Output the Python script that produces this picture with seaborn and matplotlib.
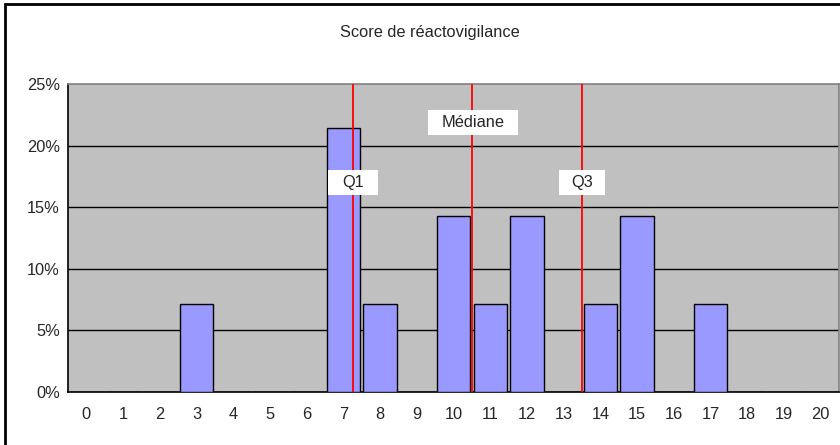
import matplotlib
matplotlib.use("Agg")
import matplotlib.pyplot as plt
import seaborn as sns
import pandas as pd
import numpy as np
from matplotlib.patches import Rectangle

scores = list(range(0, 21))
percent = [0, 0, 0, 7.14, 0, 0, 0, 21.43, 7.14, 0, 14.29, 7.14, 14.29, 0, 7.14, 14.29, 0, 7.14, 0, 0, 0]
y_ticks = [0, 5, 10, 15, 20, 25]
quartile_names = ["Q1", "Médiane", "Q3"]
quartile_values = [7.25, 10.5, 13.5]
label_x = [7.26, 10.54, 13.49]
label_y = [17.0, 21.9, 17.0]
label_w = [1.34, 2.45, 1.25]
title = "Score de réactovigilance"

sns.set_style("white")
plt.rcParams["font.family"] = ["Liberation Sans", "DejaVu Sans"]
FS = 11.8

fig = plt.figure(figsize=(8.4, 4.45), dpi=100)
ax = fig.add_axes([68/840, 1-392/445, (839-68)/840, (392-84)/445])

df = pd.DataFrame({"score": [str(s) for s in scores], "pct": percent})
sns.barplot(data=df, x="score", y="pct", order=[str(s) for s in scores],
            color="#9999FF", saturation=1, edgecolor="black", linewidth=1.0,
            width=0.91, ax=ax, zorder=3)

ax.set_facecolor("#C0C0C0")
ax.set_xlim(-0.5, 20.5)
ax.set_ylim(0, 25)
ax.set_xlabel("")
ax.set_ylabel("")

for v in y_ticks[1:-1]:
    ax.axhline(v, color="black", lw=1.0, zorder=1)

ax.set_yticks(y_ticks)
ax.set_yticklabels([f"{v}%" for v in y_ticks], fontsize=FS)
ax.set_xticks(range(len(scores)))
ax.set_xticklabels([str(s) for s in scores], fontsize=FS)
ax.set_xticks(np.arange(-0.5, 20.6, 1), minor=True)
ax.tick_params(axis="x", which="major", length=0, pad=11)
ax.tick_params(axis="x", which="minor", length=4, width=1, direction="out", color="black")
ax.tick_params(axis="y", which="major", length=4, width=1, direction="out", color="black", pad=2)

for side in ["left", "bottom"]:
    ax.spines[side].set_color("black")
    ax.spines[side].set_linewidth(1.2)
for side in ["top", "right"]:
    ax.spines[side].set_color("#808080")
    ax.spines[side].set_linewidth(1.2)

for name, q, lx, ly, w in zip(quartile_names, quartile_values, label_x, label_y, label_w):
    ax.axvline(q, color="red", lw=1.3, zorder=4)
    ax.add_patch(Rectangle((lx - w/2, ly - 1.0), w, 2.0, facecolor="white",
                           edgecolor="none", zorder=5))
    ax.text(lx, ly, name, ha="center", va="center", fontsize=FS, zorder=6)

fig.text(430/840, 1-32/445, title, ha="center", va="center", fontsize=FS)

fig.patches.append(Rectangle((5/840, -0.1), 1.2, 1-4/445+0.1, transform=fig.transFigure,
                             fill=False, edgecolor="black", linewidth=2.0, zorder=10))

fig.savefig("out.png", dpi=100, facecolor="white")
